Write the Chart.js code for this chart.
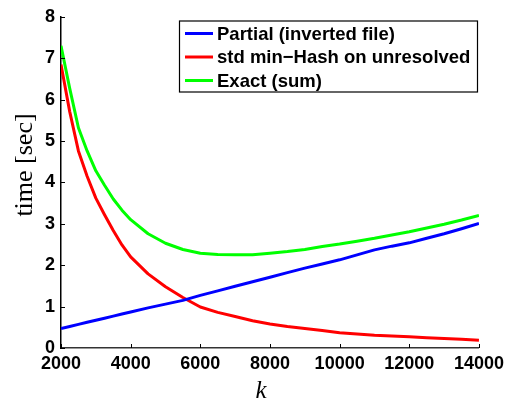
<!DOCTYPE html>
<html>
<head>
<meta charset="utf-8">
<script src="https://cdn.jsdelivr.net/npm/chart.js@4.4.0/dist/chart.umd.min.js"></script>
<style>
  html, body { margin: 0; padding: 0; background: #fff; }
  #wrap { width: 509px; height: 400px; }
</style>
</head>
<body>
<div id="wrap"><canvas id="timeChart" width="509" height="400"></canvas></div>
<script>
// k (number of min-Hash functions) vs. query time in seconds
const kValues = [2000, 2250, 2500, 2750, 3000, 3250, 3500, 3750, 4000, 4500, 5000, 5500, 6000,
                 6500, 7000, 7500, 8000, 8500, 9000, 9500, 10000, 10500, 11000, 11500, 12000,
                 12500, 13000, 13500, 14000];

const partialTime = [0.47, 0.52, 0.57, 0.62, 0.67, 0.72, 0.77, 0.82, 0.87, 0.97, 1.06, 1.15, 1.27,
                     1.38, 1.49, 1.60, 1.71, 1.82, 1.93, 2.03, 2.13, 2.25, 2.37, 2.46, 2.54,
                     2.65, 2.76, 2.88, 3.01];
const minHashTime = [6.85, 5.71, 4.76, 4.15, 3.62, 3.22, 2.84, 2.49, 2.20, 1.79, 1.48, 1.22, 0.99,
                     0.86, 0.76, 0.66, 0.58, 0.52, 0.47, 0.42, 0.37, 0.34, 0.31, 0.29, 0.27,
                     0.25, 0.23, 0.21, 0.19];
const exactTime   = [7.30, 6.27, 5.32, 4.76, 4.28, 3.93, 3.60, 3.33, 3.10, 2.76, 2.53, 2.38, 2.29,
                     2.26, 2.25, 2.25, 2.29, 2.33, 2.38, 2.45, 2.51, 2.58, 2.65, 2.73, 2.81,
                     2.90, 2.99, 3.09, 3.20];

const seriesLabels = ['Partial (inverted file)', 'std min\u2212Hash on unresolved', 'Exact (sum)'];
const seriesColors = ['#0000ff', '#ff0000', '#00ff00'];

const xTicks = [2000, 4000, 6000, 8000, 10000, 12000, 14000];
const yTicks = [0, 1, 2, 3, 4, 5, 6, 7, 8];

const tickFont = { family: 'Liberation Sans, Arial, sans-serif', size: 18, weight: 'bold' };
const serif = '"Liberation Serif", "Times New Roman", serif';

function toPoints(ys) {
    return kValues.map((k, i) => ({ x: k, y: ys[i] }));
}

// inward tick marks, drawn from the scales' own tick positions
const innerTicks = {
    id: 'innerTicks',
    afterDraw(chart) {
        const { ctx, chartArea: a, scales: { x, y } } = chart;
        ctx.save();
        ctx.strokeStyle = '#000';
        ctx.lineWidth = 1;
        ctx.beginPath();
        x.ticks.forEach(t => {
            const px = Math.round(x.getPixelForValue(t.value)) + 0.5;
            ctx.moveTo(px, a.bottom);
            ctx.lineTo(px, a.bottom - 4);
        });
        y.ticks.forEach(t => {
            const py = Math.round(y.getPixelForValue(t.value)) + 0.5;
            ctx.moveTo(a.left, py);
            ctx.lineTo(a.left + 4, py);
        });
        ctx.stroke();
        ctx.restore();
    }
};

// axis labels: serif "time [sec]" on the left, italic k underneath
const axisLabels = {
    id: 'axisLabels',
    afterDraw(chart) {
        const { ctx } = chart;
        ctx.save();
        ctx.fillStyle = '#000';
        ctx.textAlign = 'center';
        ctx.textBaseline = 'alphabetic';
        ctx.font = '26px ' + serif;
        ctx.translate(32, 165);
        ctx.rotate(-Math.PI / 2);
        ctx.fillText('time [sec]', 0, 0);
        ctx.restore();

        ctx.save();
        ctx.fillStyle = '#000';
        ctx.textAlign = 'center';
        ctx.textBaseline = 'alphabetic';
        ctx.font = 'italic 25px ' + serif;
        ctx.fillText('k', 261, 398);
        ctx.restore();
    }
};

// boxed legend in the upper right of the plot
const boxLegend = {
    id: 'boxLegend',
    afterDraw(chart) {
        const { ctx } = chart;
        const box = { left: 179.5, top: 21, width: 298, height: 71 };
        const rowH = 23.5;
        ctx.save();
        ctx.fillStyle = '#fff';
        ctx.fillRect(box.left, box.top, box.width, box.height);
        ctx.strokeStyle = '#000';
        ctx.lineWidth = 1.2;
        ctx.strokeRect(box.left, box.top, box.width, box.height);
        ctx.font = 'bold 18.5px "Liberation Sans", Arial, sans-serif';
        ctx.textBaseline = 'middle';
        chart.data.datasets.forEach((ds, i) => {
            const cy = box.top + 12.5 + i * rowH;
            ctx.strokeStyle = ds.borderColor;
            ctx.lineWidth = 3;
            ctx.beginPath();
            ctx.moveTo(185, cy);
            ctx.lineTo(213, cy);
            ctx.stroke();
            ctx.fillStyle = '#000';
            ctx.fillText(ds.label, 217, cy + 1);
        });
        ctx.restore();
    }
};

new Chart(document.getElementById('timeChart'), {
    type: 'line',
    data: {
        datasets: [
            { label: seriesLabels[0], data: toPoints(partialTime), borderColor: seriesColors[0] },
            { label: seriesLabels[1], data: toPoints(minHashTime), borderColor: seriesColors[1] },
            { label: seriesLabels[2], data: toPoints(exactTime),   borderColor: seriesColors[2] }
        ]
    },
    options: {
        responsive: false,
        animation: false,
        layout: { padding: { left: 0, top: 16, right: 28, bottom: 0 } },
        elements: {
            line: { borderWidth: 3, tension: 0, fill: false, borderJoinStyle: 'round' },
            point: { radius: 0 }
        },
        plugins: {
            legend: { display: false },
            tooltip: { enabled: false }
        },
        scales: {
            x: {
                type: 'linear',
                min: 2000, max: 14000,
                afterBuildTicks: s => { s.ticks = xTicks.map(v => ({ value: v })); },
                afterFit: s => { s.height = 52; },
                ticks: { font: tickFont, color: '#000', padding: 5, maxRotation: 0, callback: v => String(v) },
                grid: { drawOnChartArea: false, drawTicks: false },
                border: { color: '#333', width: 1.5 }
            },
            y: {
                min: 0, max: 8,
                afterBuildTicks: s => { s.ticks = yTicks.map(v => ({ value: v })); },
                afterFit: s => { s.width = 61; },
                ticks: { font: tickFont, color: '#000', padding: 6, callback: v => String(v) },
                grid: { drawOnChartArea: false, drawTicks: false },
                border: { color: '#000', width: 1.5 }
            }
        }
    },
    plugins: [innerTicks, axisLabels, boxLegend]
});
</script>
</body>
</html>
